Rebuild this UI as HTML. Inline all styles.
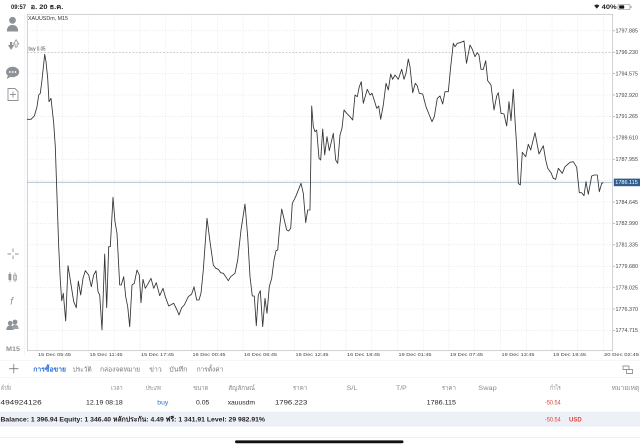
<!DOCTYPE html>
<html><head><meta charset="utf-8"><style>
html,body{margin:0;padding:0;background:#fff;width:640px;height:447px;overflow:hidden}
svg{display:block}
text{font-family:"Liberation Sans","DejaVu Sans","Noto Sans CJK SC",sans-serif}
</style></head><body>
<svg width="640" height="447" viewBox="0 0 640 447" xmlns="http://www.w3.org/2000/svg">
<rect width="640" height="447" fill="#fff"/>
<!-- status bar -->
<text x="11" y="8.8" font-size="6.6" font-weight="bold" fill="#222" textLength="15" lengthAdjust="spacingAndGlyphs">09:57</text>
<text x="30.7" y="8.8" font-size="6.6" font-weight="bold" fill="#222" textLength="32.6" lengthAdjust="spacingAndGlyphs">อ. 20 ธ.ค.</text>
<path d="M594.2,5.6 Q596.8,3.4 599.4,5.6 L596.8,8.6 Z" fill="#222"/>
<text x="601.7" y="8.8" font-size="6.6" font-weight="bold" fill="#222" textLength="15" lengthAdjust="spacingAndGlyphs">40%</text>
<rect x="618" y="4.3" width="12" height="5.4" rx="1.5" fill="none" stroke="#999" stroke-width="0.7"/>
<rect x="619.2" y="5.4" width="5" height="3.2" rx="0.6" fill="#111"/>
<rect x="630.6" y="6" width="0.9" height="2" fill="#999"/>

<!-- left toolbar -->
<g fill="#8d9298" stroke="none">
 <circle cx="12.5" cy="20.3" r="3.4"/>
 <path d="M6.8,31.5 Q7,25 12.5,25 Q18,25 18.2,31.5 Z"/>
 <path d="M8,45 h2 v-3 h2.2 v3 h2 l-3.1,5 z"/>
 <path d="M13.5,44 l2.6,-4.2 l2.6,4.2 h-1.6 v3 h-2 v-3 z" fill="none" stroke="#8d9298" stroke-width="0.8"/>
 <ellipse cx="12.6" cy="72" rx="6.6" ry="5.2"/>
 <path d="M8,75.5 l-1.5,3.5 l4,-2 z"/>
</g>
<circle cx="9.8" cy="72" r="0.9" fill="#fff"/><circle cx="12.6" cy="72" r="0.9" fill="#fff"/><circle cx="15.4" cy="72" r="0.9" fill="#fff"/>
<path d="M8,88.5 h7 l3,3 v9 h-10 z" fill="none" stroke="#8d9298" stroke-width="0.9"/>
<path d="M13,91.5 v6 M10,94.5 h6" stroke="#8d9298" stroke-width="0.9"/>
<path d="M13,248.5 v3.5 M13,255.5 v3.5 M7.5,254 h3.5 M15,254 h3.5" stroke="#8d9298" stroke-width="0.9"/>
<g fill="#8d9298"><rect x="8.5" y="274" width="2.8" height="6"/><rect x="9.6" y="272" width="0.7" height="10"/></g>
<rect x="13.6" y="275" width="2.8" height="5" fill="none" stroke="#8d9298" stroke-width="0.7"/><rect x="14.7" y="272.5" width="0.7" height="9.5" fill="#8d9298"/>
<text x="10.2" y="304.5" font-size="10" font-style="italic" fill="#8d9298" font-family="Liberation Serif">f</text>
<g fill="#8d9298"><circle cx="10.2" cy="323.2" r="2.3"/><path d="M6.2,330 Q6.4,325.5 10.2,325.5 Q13.6,325.5 13.8,330 Z"/><circle cx="15" cy="322" r="2.4"/><path d="M11.8,329 Q12,324.5 15,324.5 Q18.4,324.5 18.6,329 Z" fill="#9aa0a6"/></g>
<text x="6" y="351" font-size="6.3" font-weight="bold" fill="#8d9298" textLength="14" lengthAdjust="spacingAndGlyphs">M15</text>
<line x1="24.5" y1="14" x2="24.5" y2="356" stroke="#eef0f2" stroke-width="0.6"/>

<!-- chart grid -->
<g stroke="#dcdcdc" stroke-width="0.6" stroke-dasharray="1,1.6">
 <line x1="27" y1="30.8" x2="613" y2="30.8"/>
 <line x1="27" y1="73.6" x2="613" y2="73.6"/>
 <line x1="27" y1="95" x2="613" y2="95"/>
 <line x1="27" y1="116.4" x2="613" y2="116.4"/>
 <line x1="27" y1="137.8" x2="613" y2="137.8"/>
 <line x1="27" y1="159.2" x2="613" y2="159.2"/>
 <line x1="27" y1="180.6" x2="613" y2="180.6"/>
 <line x1="27" y1="202" x2="613" y2="202"/>
 <line x1="27" y1="223.4" x2="613" y2="223.4"/>
 <line x1="27" y1="244.8" x2="613" y2="244.8"/>
 <line x1="27" y1="266.2" x2="613" y2="266.2"/>
 <line x1="27" y1="287.6" x2="613" y2="287.6"/>
 <line x1="27" y1="309" x2="613" y2="309"/>
 <line x1="27" y1="330.4" x2="613" y2="330.4"/>
 <line x1="37" y1="14" x2="37" y2="351"/>
 <line x1="62.75" y1="14" x2="62.75" y2="351"/>
 <line x1="88.5" y1="14" x2="88.5" y2="351"/>
 <line x1="114.25" y1="14" x2="114.25" y2="351"/>
 <line x1="140" y1="14" x2="140" y2="351"/>
 <line x1="165.75" y1="14" x2="165.75" y2="351"/>
 <line x1="191.5" y1="14" x2="191.5" y2="351"/>
 <line x1="217.25" y1="14" x2="217.25" y2="351"/>
 <line x1="243" y1="14" x2="243" y2="351"/>
 <line x1="268.75" y1="14" x2="268.75" y2="351"/>
 <line x1="294.5" y1="14" x2="294.5" y2="351"/>
 <line x1="320.25" y1="14" x2="320.25" y2="351"/>
 <line x1="346" y1="14" x2="346" y2="351"/>
 <line x1="371.75" y1="14" x2="371.75" y2="351"/>
 <line x1="397.5" y1="14" x2="397.5" y2="351"/>
 <line x1="423.25" y1="14" x2="423.25" y2="351"/>
 <line x1="449" y1="14" x2="449" y2="351"/>
 <line x1="474.75" y1="14" x2="474.75" y2="351"/>
 <line x1="500.5" y1="14" x2="500.5" y2="351"/>
 <line x1="526.25" y1="14" x2="526.25" y2="351"/>
 <line x1="552" y1="14" x2="552" y2="351"/>
 <line x1="577.75" y1="14" x2="577.75" y2="351"/>
 <line x1="603.5" y1="14" x2="603.5" y2="351"/>
</g>
<!-- buy line -->
<line x1="27" y1="52.3" x2="613" y2="52.3" stroke="#b4b4b4" stroke-width="0.7" stroke-dasharray="2,1.4"/>
<!-- current price line -->
<line x1="27" y1="182.3" x2="613" y2="182.3" stroke="#a8bbd0" stroke-width="0.8"/>
<!-- frame -->
<rect x="27.3" y="14.3" width="585.4" height="336.4" fill="none" stroke="#bcbcbc" stroke-width="0.7"/>

<text x="28" y="20" font-size="5" fill="#333" textLength="40" lengthAdjust="spacingAndGlyphs">XAUUSDm, M15</text>
<text x="28.5" y="50.6" font-size="5" fill="#444" textLength="17" lengthAdjust="spacingAndGlyphs">buy 0.05</text>

<!-- price series -->
<polyline fill="none" stroke="#333" stroke-width="0.85" stroke-linejoin="round" points="27,119.3 31,119.3 34.3,116 37,106.7 38.7,95 40.3,93.3 42,80 44.7,54.3 46,61.7 47.7,78.3 49,101.7 51,98.3 53.7,123.3 55.3,146.7 57,196.7 58.7,246.7 60.3,280 61.7,300.7 63.3,293.3 65.7,321 68,265.7 70.3,280 73.7,301.7 76.3,307.7 78.3,281 80.7,295 83,278.3 85.3,270.7 88.7,275 91.3,286.7 93.7,275 96,270.7 98,291.7 99.7,295 102,330 104.7,254 106.7,307.7 108.7,246.7 110.3,246.7 113,197.3 115,221.7 117,233.3 119.7,285 121.3,285 123.7,276.7 125.7,296.7 127.7,306.7 129.7,326.7 132,285 134.3,283.3 137,270 139.3,275 141,302.7 143,279.3 145.3,288.3 147.7,284.3 151,278.3 153.7,288.3 156.3,282.7 159.7,295.7 163,288.3 165.3,296.7 168.7,306 173.7,303.3 177,310 179,315 181.7,307.7 184.3,305 188.3,296.7 191.7,294 194,286.7 196.7,300 199,300 201,293.3 203.3,270 207,218.3 210,241.7 213.3,265 215.7,268.3 218.3,269.3 220.7,272.7 223.3,273.3 225.7,276.7 228.3,280.7 230.7,276.7 235,273.3 237.7,260 241,230 245,204 247.7,236.7 250,276.7 252.3,296 254.3,296 256.3,325.7 258.3,295 260.3,290.7 262.7,326.7 265,298.3 267,313.3 269.3,286.7 271.7,278.3 274,260 276,250.7 277.7,250 279.7,226.7 281.7,209 284.3,220 286.7,230 288.7,231 290.7,228.3 292.3,203.3 295.7,196.7 301,183.3 303.3,193.3 305.7,222.7 307.7,210 310,210 311.7,106 313.3,126.7 315,131.7 316.7,130 319,158.3 320.7,160 322.7,129 324.7,155 327,136.7 329.3,150.7 333.3,133.3 335.7,160 337.7,163.3 340,135 342,128.3 344,110 346.7,113.3 350,116.7 352.7,120 355,95 357.3,96.7 359.3,86.7 361.3,81.7 363.3,103.3 367.3,89.3 370,95 372,93.3 374.7,101.7 376.7,108.3 378.7,106 380.7,119.3 383.3,105 386,83.3 388.3,90 390.7,74 392.7,79.3 395,75 398.3,79.3 401.7,69.3 404,79.3 406,73.3 408.3,59 410,66.7 412.7,92.7 415.3,83.3 417.3,86 419.3,93.3 422.7,94 426,106.7 429.3,115 432,121.7 434.3,116.7 437.3,98.3 440,96 442.7,104 445,91.7 448.3,91.7 450.7,66.7 453.3,43.3 455,46.7 457.3,43.3 460,42.7 464,41 466.5,63.3 470,45 472.3,49.3 475,56.7 477.3,52.7 479,55 481,69.3 483.3,69.3 485.7,60.7 487.7,80.7 491,85 494,110 496.7,96 498.3,92.7 501,113.3 504,114 506.7,126 509,101.7 511,120.7 513.3,89.3 515,120 516.7,146.7 518.3,183.3 520.3,185 522.3,152.3 525.7,156.7 528.3,144.3 530.7,150 535,132.7 539,154 543.3,145.7 545.7,160 547.7,168.3 551,172.7 553.3,178.3 555.7,179.3 558.3,168.3 562.3,173.3 565,166.7 570,162.3 573.3,161.7 576.7,167.3 579.3,192.7 581.7,192.7 584,195.7 586,181.7 588.3,194.3 591.7,176 594.3,175 597.3,175 599.3,191.7 601.7,183.3 603.3,182.7"/>

<!-- y axis labels -->
<g stroke="#999" stroke-width="0.6">
 <line x1="613" y1="30.8" x2="615" y2="30.8"/><line x1="613" y1="52.2" x2="615" y2="52.2"/><line x1="613" y1="73.6" x2="615" y2="73.6"/><line x1="613" y1="95" x2="615" y2="95"/><line x1="613" y1="116.4" x2="615" y2="116.4"/><line x1="613" y1="137.8" x2="615" y2="137.8"/><line x1="613" y1="159.2" x2="615" y2="159.2"/><line x1="613" y1="202" x2="615" y2="202"/><line x1="613" y1="223.4" x2="615" y2="223.4"/><line x1="613" y1="244.8" x2="615" y2="244.8"/><line x1="613" y1="266.2" x2="615" y2="266.2"/><line x1="613" y1="287.6" x2="615" y2="287.6"/><line x1="613" y1="309" x2="615" y2="309"/><line x1="613" y1="330.4" x2="615" y2="330.4"/>
</g>
<g font-size="5" fill="#444">
 <text x="615.5" y="32.6" textLength="22.5" lengthAdjust="spacingAndGlyphs">1797.885</text>
 <text x="615.5" y="54" textLength="22.5" lengthAdjust="spacingAndGlyphs">1796.230</text>
 <text x="615.5" y="75.4" textLength="22.5" lengthAdjust="spacingAndGlyphs">1794.575</text>
 <text x="615.5" y="96.8" textLength="22.5" lengthAdjust="spacingAndGlyphs">1792.920</text>
 <text x="615.5" y="118.2" textLength="22.5" lengthAdjust="spacingAndGlyphs">1791.265</text>
 <text x="615.5" y="139.6" textLength="22.5" lengthAdjust="spacingAndGlyphs">1789.610</text>
 <text x="615.5" y="161" textLength="22.5" lengthAdjust="spacingAndGlyphs">1787.955</text>
 <text x="615.5" y="203.8" textLength="22.5" lengthAdjust="spacingAndGlyphs">1784.645</text>
 <text x="615.5" y="225.2" textLength="22.5" lengthAdjust="spacingAndGlyphs">1782.990</text>
 <text x="615.5" y="246.6" textLength="22.5" lengthAdjust="spacingAndGlyphs">1781.335</text>
 <text x="615.5" y="268" textLength="22.5" lengthAdjust="spacingAndGlyphs">1779.680</text>
 <text x="615.5" y="289.4" textLength="22.5" lengthAdjust="spacingAndGlyphs">1778.025</text>
 <text x="615.5" y="310.8" textLength="22.5" lengthAdjust="spacingAndGlyphs">1776.370</text>
 <text x="615.5" y="332.2" textLength="22.5" lengthAdjust="spacingAndGlyphs">1774.715</text>
</g>
<rect x="613.8" y="178.6" width="26.2" height="7.6" fill="#2f5d8e"/>
<text x="615.3" y="184.2" font-size="5" fill="#fff" textLength="22.5" lengthAdjust="spacingAndGlyphs">1786.115</text>

<!-- x axis labels -->
<g font-size="4.8" fill="#444">
 <text x="38" y="356" textLength="33" lengthAdjust="spacingAndGlyphs">15 Dec 05:45</text>
 <text x="89.5" y="356" textLength="33" lengthAdjust="spacingAndGlyphs">15 Dec 11:45</text>
 <text x="141" y="356" textLength="33" lengthAdjust="spacingAndGlyphs">15 Dec 17:45</text>
 <text x="192.5" y="356" textLength="33" lengthAdjust="spacingAndGlyphs">16 Dec 00:45</text>
 <text x="244" y="356" textLength="33" lengthAdjust="spacingAndGlyphs">16 Dec 06:45</text>
 <text x="295.5" y="356" textLength="33" lengthAdjust="spacingAndGlyphs">16 Dec 12:45</text>
 <text x="347" y="356" textLength="33" lengthAdjust="spacingAndGlyphs">16 Dec 18:45</text>
 <text x="398.5" y="356" textLength="33" lengthAdjust="spacingAndGlyphs">19 Dec 01:45</text>
 <text x="450" y="356" textLength="33" lengthAdjust="spacingAndGlyphs">19 Dec 07:45</text>
 <text x="501.5" y="356" textLength="33" lengthAdjust="spacingAndGlyphs">19 Dec 13:45</text>
 <text x="553" y="356" textLength="33" lengthAdjust="spacingAndGlyphs">19 Dec 19:45</text>
 <text x="604" y="356" textLength="35" lengthAdjust="spacingAndGlyphs">20 Dec 02:45</text>
</g>

<!-- tab row -->
<line x1="0" y1="360.5" x2="640" y2="360.5" stroke="#f0f0f0" stroke-width="0.6"/>
<path d="M13.8,364 v9.3 M9.2,368.7 h9.2" stroke="#777" stroke-width="0.8"/>
<g font-size="6.6">
 <text x="33.3" y="371.6" fill="#2f6fd6" font-weight="bold" textLength="32.7" lengthAdjust="spacingAndGlyphs">การซื้อขาย</text>
 <text x="72.7" y="371.6" fill="#777" textLength="19" lengthAdjust="spacingAndGlyphs">ประวัติ</text>
 <text x="100" y="371.6" fill="#777" textLength="40" lengthAdjust="spacingAndGlyphs">กล่องจดหมาย</text>
 <text x="149.3" y="371.6" fill="#777" textLength="12.4" lengthAdjust="spacingAndGlyphs">ข่าว</text>
 <text x="169.3" y="371.6" fill="#777" textLength="18" lengthAdjust="spacingAndGlyphs">บันทึก</text>
 <text x="196.7" y="371.6" fill="#777" textLength="26.6" lengthAdjust="spacingAndGlyphs">การตั้งค่า</text>
</g>
<path d="M623,366 h6 v3.5 h-6 z M626.5,369.5 h6 v4 h-6 z" fill="none" stroke="#777" stroke-width="0.7"/>
<line x1="0" y1="377.5" x2="640" y2="377.5" stroke="#eeeeee" stroke-width="0.6"/>

<!-- header row -->
<g font-size="6.4" fill="#8a8a8a">
 <text x="1" y="390" textLength="10" lengthAdjust="spacingAndGlyphs">คำสั่ง</text>
 <text x="111" y="390" textLength="11.7" lengthAdjust="spacingAndGlyphs">เวลา</text>
 <text x="145.7" y="390" textLength="15.3" lengthAdjust="spacingAndGlyphs">ประเภท</text>
 <text x="193.3" y="390" textLength="15" lengthAdjust="spacingAndGlyphs">ขนาด</text>
 <text x="228.3" y="390" textLength="26.7" lengthAdjust="spacingAndGlyphs">สัญลักษณ์</text>
 <text x="292.7" y="390" textLength="14.6" lengthAdjust="spacingAndGlyphs">ราคา</text>
 <text x="346.7" y="390" textLength="10.6" lengthAdjust="spacingAndGlyphs">S/L</text>
 <text x="396" y="390" textLength="10.7" lengthAdjust="spacingAndGlyphs">T/P</text>
 <text x="441.7" y="390" textLength="14.3" lengthAdjust="spacingAndGlyphs">ราคา</text>
 <text x="478.3" y="390" textLength="18.4" lengthAdjust="spacingAndGlyphs">Swap</text>
 <text x="550" y="390" textLength="10.7" lengthAdjust="spacingAndGlyphs">กำไร</text>
 <text x="611.7" y="390" textLength="27.6" lengthAdjust="spacingAndGlyphs">หมายเหตุ</text>
</g>
<!-- data row -->
<g font-size="6.8" fill="#222">
 <text x="0.5" y="404.7" textLength="41.2" lengthAdjust="spacingAndGlyphs">494924126</text>
 <text x="86" y="404.7" textLength="36.7" lengthAdjust="spacingAndGlyphs">12.19 08:18</text>
 <text x="157.3" y="404.7" fill="#2f6fd6" textLength="11" lengthAdjust="spacingAndGlyphs">buy</text>
 <text x="196" y="404.7" textLength="13.3" lengthAdjust="spacingAndGlyphs">0.05</text>
 <text x="227.7" y="404.7" textLength="27.3" lengthAdjust="spacingAndGlyphs">xauusdm</text>
 <text x="275" y="404.7" textLength="32.3" lengthAdjust="spacingAndGlyphs">1796.223</text>
 <text x="426.7" y="404.7" textLength="29.3" lengthAdjust="spacingAndGlyphs">1786.115</text>
 <text x="545" y="404.7" fill="#e0443c" textLength="15.7" lengthAdjust="spacingAndGlyphs">-50.54</text>
</g>
<!-- balance row -->
<rect x="0" y="411.7" width="640" height="15" fill="#edf1f7"/>
<text x="0.5" y="421.7" font-size="6.8" font-weight="bold" fill="#222" textLength="264.5" lengthAdjust="spacingAndGlyphs">Balance: 1 396.94 Equity: 1 346.40 หลักประกัน: 4.49 ฟรี: 1 341.91 Level: 29 982.91%</text>
<text x="545" y="421.7" font-size="6.8" fill="#e0443c" textLength="15.7" lengthAdjust="spacingAndGlyphs">-50.54</text>
<text x="569" y="421.7" font-size="6.8" font-weight="bold" fill="#e0443c" textLength="12.7" lengthAdjust="spacingAndGlyphs">USD</text>

<line x1="0" y1="437.3" x2="640" y2="437.3" stroke="#e6e6e6" stroke-width="0.6"/>
<rect x="235" y="440.4" width="168.5" height="2.8" rx="1.4" fill="#111"/>
</svg>
</body></html>
